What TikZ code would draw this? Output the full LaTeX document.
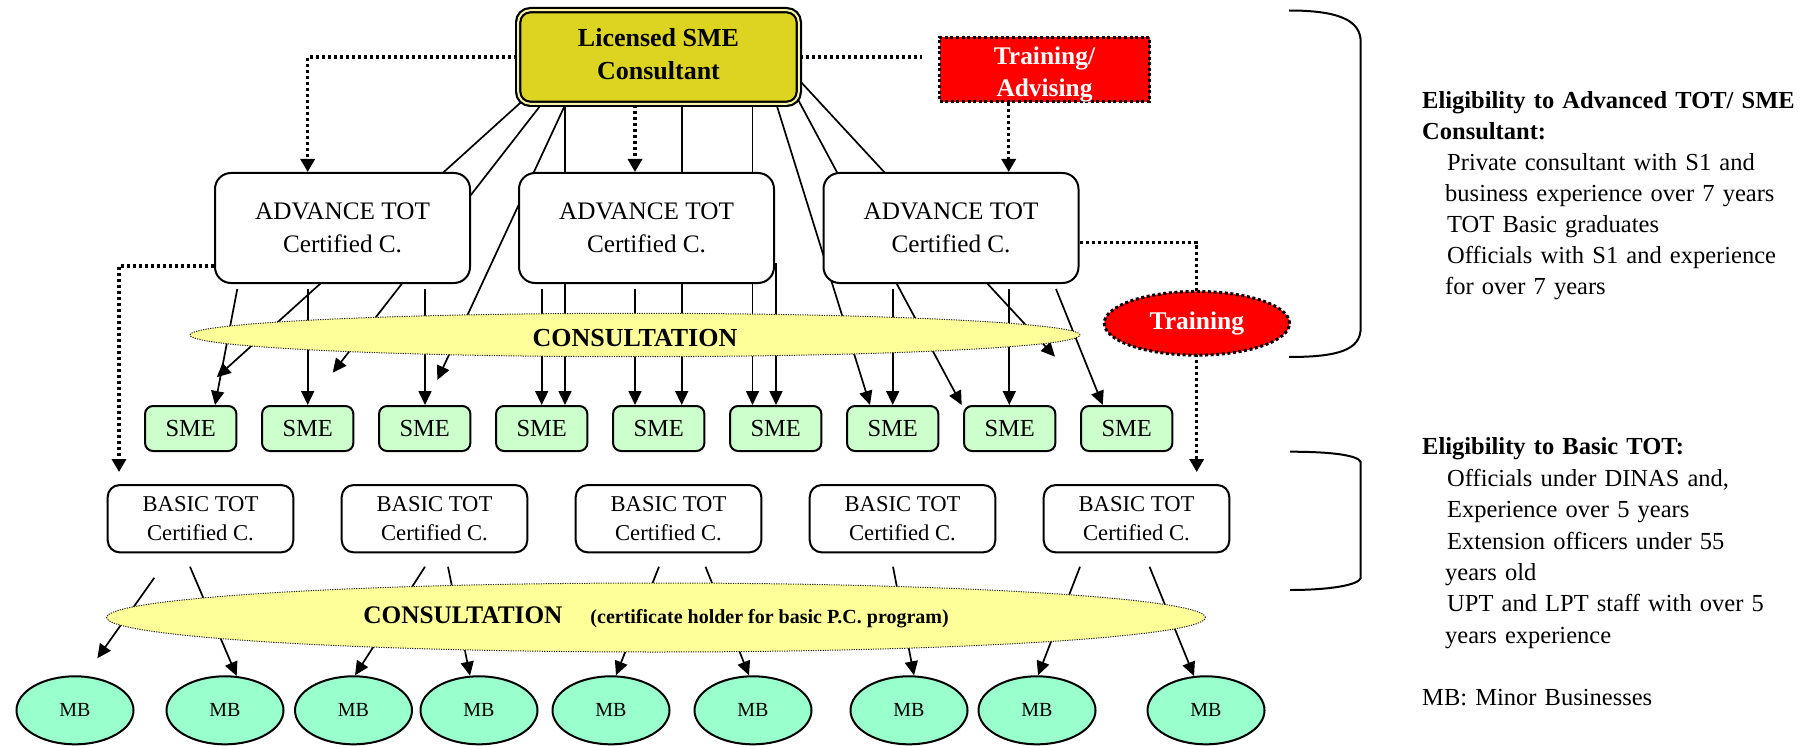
\documentclass[tikz,border=0pt]{standalone}
\usepackage{fontspec}
\setmainfont{Liberation Serif}
\usetikzlibrary{arrows.meta,shapes.geometric,calc}
\definecolor{licfill}{RGB}{221,212,34}
\definecolor{licgap}{RGB}{246,242,170}
\definecolor{consfill}{RGB}{255,255,153}
\definecolor{smefill}{RGB}{204,255,204}
\definecolor{mbfill}{RGB}{153,255,204}
\definecolor{hotred}{RGB}{255,0,0}
\pgfdeclarelayer{back}
\pgfsetlayers{back,main}
\tikzset{
  lic/.style={rectangle, rounded corners=12pt, draw=black, line width=2.2pt,
    double=licgap, double distance=2pt, fill=licfill,
    minimum width=280.6pt, minimum height=93.6pt, inner sep=0pt},
  licTxt/.style={align=center, inner sep=0pt, font=\fontsize{26}{33.3}\selectfont\bfseries},
  trainbox/.style={rectangle, draw=black, line width=3pt, dash pattern=on 3pt off 2.6pt,
    fill=hotred, minimum width=210pt, minimum height=64.3pt, inner sep=0pt},
  trainTxtSty/.style={align=center, inner sep=0pt, text=white,
    font=\fontsize{25.4}{31.7}\selectfont\bfseries},
  trainell/.style={ellipse, draw=black, line width=3pt, dash pattern=on 3pt off 2.6pt,
    fill=hotred, minimum width=185.3pt, minimum height=63.7pt, inner sep=0pt,
    text=white, font=\fontsize{25.5}{30}\selectfont\bfseries},
  advbox/.style={rectangle, rounded corners=16pt, draw=black, line width=2pt, fill=white,
    minimum width=255pt, minimum height=110pt, inner sep=0pt, align=center,
    font=\fontsize{25.2}{32.7}\selectfont},
  consell/.style={ellipse, draw=black!85, line width=1pt, dash pattern=on 1.2pt off 1.2pt,
    fill=consfill, inner sep=0pt},
  consTxt/.style={inner sep=0pt, font=\fontsize{26}{30}\selectfont\bfseries},
  smebox/.style={rectangle, rounded corners=8pt, draw=black, line width=2pt, fill=smefill,
    minimum width=91.3pt, minimum height=45pt, inner sep=0pt,
    font=\fontsize{24.5}{29}\selectfont},
  basicbox/.style={rectangle, rounded corners=12pt, draw=black, line width=2pt, fill=white,
    minimum width=185.6pt, minimum height=67.3pt, inner sep=0pt, align=center,
    font=\fontsize{22.6}{29}\selectfont},
  mbell/.style={ellipse, draw=black, line width=2pt, fill=mbfill,
    minimum width=117pt, minimum height=68pt, inner sep=0pt,
    font=\fontsize{20}{24}\selectfont},
  righttxt/.style={text width=379pt, align=left, inner sep=0pt, anchor=base west},
  conn/.style={line width=1.7pt, -{Triangle[length=14pt,width=13pt]}},
  dotline/.style={line width=3.3pt, dash pattern=on 3.3pt off 2.7pt},
  dotconn/.style={dotline, -{Triangle[length=13pt,width=14pt]}},
  brace/.style={line width=2pt}
}
\begin{document}
\begin{tikzpicture}[x=1pt,y=-1pt]
\useasboundingbox (0,0) rectangle (1801,746);

% ---- top level
\node[lic] (top) at (658.5,57) {};
\node[licTxt] (topTxt) at ($(top.center)+(0,-2.6)$) {Licensed SME\\Consultant};
\node[trainbox] (train) at (1044.5,69.4) {};
\node[trainTxtSty] (trainTxt) at ($(train.center)+(0,5.4)$) {Training/\\Advising};

% ---- advanced trainers
\node[advbox] (adv1) at (342.5,228) {ADVANCE TOT\\Certified C.};
\node[advbox] (adv2) at (646.5,228) {ADVANCE TOT\\Certified C.};
\node[advbox] (adv3) at (951,228) {ADVANCE TOT\\Certified C.};

% ---- first consultation band
\node[consell, minimum width=890pt, minimum height=43.4pt] (cons1) at (635,335) {};
\node[consTxt] (cons1Txt) at ($(cons1.center)+(0,3.4)$) {CONSULTATION};
\node[trainell] (trainEl) at (1196.9,323.3) {Training};

% ---- SME row
\foreach \i in {1,...,9}
  \node[smebox] (sme\i) at ({190.7+117*(\i-1)},428.5) {SME};

% ---- basic trainers
\foreach \i in {1,...,5}
  \node[basicbox] (basic\i) at ({200.5+234*(\i-1)},518.7) {BASIC TOT\\Certified C.};

% ---- second consultation band
\node[consell, minimum width=1098.7pt, minimum height=69pt, font=\bfseries] (cons2) at (656,617.5)
  {{\fontsize{25.3}{30}\selectfont CONSULTATION}\hspace{28pt}{\fontsize{20}{24}\selectfont (certificate holder for basic P.C. program)}};

% ---- minor businesses
\foreach \x [count=\i] in {75,225,353.5,479,611,753,909,1037,1206}
  \node[mbell] (mb\i) at (\x,710.3) {MB};

% ---- free arrow ends
\coordinate (tipA) at (216.7,377.3);
\coordinate (tipB) at (332.7,372.7);
\coordinate (tipC) at (437.3,380);
\coordinate (tipD) at (1055,356.7);
\coordinate (tipE) at (97.3,658.3);

% ---- connectors, behind the shapes
\begin{pgfonlayer}{back}
  % licensed consultant downwards
  \draw[conn] ($(top.center)+(-129.5,38)$) -- (tipA);
  \draw[conn] ($(top.center)+(-109.9,38)$) -- (tipB);
  \draw[conn] ($(top.center)+(-88.8,38)$) -- (tipC);
  \draw[conn] ($(top.center)+(-93.5,38)$) -- ($(sme4.north)+(23.3,0)$);
  \draw[conn] ($(top.center)+(23.2,38)$) -- ($(sme5.north)+(23,0)$);
  \draw[conn] ($(top.center)+(94,38)$) -- ($(sme6.north)+(-23.2,0)$);
  \draw[conn] ($(top.center)+(115,38)$) -- ($(sme7.north)+(-22.7,0)$);
  \draw[conn] ($(top.center)+(137.1,38)$) -- ($(sme8.north)+(-48,0)$);
  \draw[conn] ($(top.center)+(131.5,13.2)$) -- (tipD);
  % advanced trainers to SMEs
  \draw[conn] ($(adv1.south)+(-105.2,5)$) -- ($(sme1.north)+(24.3,0)$);
  \draw[conn] ($(adv1.south)+(-34.8,5)$) -- ($(sme2.north)+(0,0)$);
  \draw[conn] ($(adv1.south)+(82.5,5)$) -- ($(sme3.north)+(0.3,0)$);
  \draw[conn] ($(adv2.south)+(-104.8,5)$) -- ($(sme4.north)+(0,0)$);
  \draw[conn] ($(adv2.south)+(-11.5,5)$) -- ($(sme5.north)+(-23.7,0)$);
  \draw[conn] ($(adv2.south)+(129.5,-21)$) -- ($(sme6.north)+(0.3,0)$);
  \draw[conn] ($(adv3.south)+(-58.3,5)$) -- ($(sme7.north)+(0,0)$);
  \draw[conn] ($(adv3.south)+(58.3,5)$) -- ($(sme8.north)+(-0.4,0)$);
  \draw[conn] ($(adv3.south)+(105,5)$) -- ($(sme9.north)+(-24,0)$);
  % basic trainers to minor businesses
  \draw[conn] ($(basic1.south)+(-46.2,24.4)$) -- (tipE);
  \draw[conn] ($(basic1.south)+(-10.5,13.4)$) -- ($(mb2.north)+(11.7,0.7)$);
  \draw[conn] ($(basic2.south)+(-9.5,13.4)$) -- ($(mb3.north)+(1.5,0)$);
  \draw[conn] ($(basic2.south)+(13.5,13.4)$) -- ($(mb4.north)+(-9,0.4)$);
  \draw[conn] ($(basic3.south)+(-9.5,13.4)$) -- ($(mb5.north)+(5,0)$);
  \draw[conn] ($(basic3.south)+(37,13.4)$) -- ($(mb6.north)+(-4,0)$);
  \draw[conn] ($(basic4.south)+(-9.5,13.4)$) -- ($(mb7.north)+(5,0)$);
  \draw[conn] ($(basic5.south)+(-56.5,13.4)$) -- ($(mb8.north)+(1,0)$);
  \draw[conn] ($(basic5.south)+(13,13.4)$) -- ($(mb9.north)+(-12,0.7)$);
  % dotted training paths
  \draw[dotconn] (top.west) -| ($(adv1.north)+(-34.8,0)$);
  \draw[dotconn] ($(top.south)+(-23.5,0)$) -- ($(adv2.north)+(-11.5,0)$);
  \draw[dotline] (top.east) -- ($(top.east -| train.west)+(-16.3,0)$);
  \draw[dotconn] ($(train.south)+(-35.8,0)$) -- ($(adv3.north)+(57.7,0)$);
  \draw[dotconn] ($(adv1.west)+(0,38)$) -| ($(basic1.north)+(-81.5,-12)$);
  \draw[dotconn] ($(adv3.east)+(0,14.7)$) -| ($(basic5.north)+(60.2,-12)$);
\end{pgfonlayer}

% ---- brackets
\draw[brace] (1289,10.5) .. controls (1338,10.5) and (1360.7,20) .. (1360.7,42)
  -- (1360.7,328) .. controls (1360.7,350) and (1338,357) .. (1289,357);
\draw[brace] (1290,451.7) .. controls (1330,451.7) and (1358,455) .. (1360.7,462)
  -- (1360.7,578.3) .. controls (1358,585) and (1330,590) .. (1290,590);

% ---- eligibility notes
\node[righttxt, font=\fontsize{24.5}{31}\selectfont] (eligAdv) at (1422,108.6)
  {\textbf{Eligibility to Advanced TOT/ SME}\\
   \textbf{Consultant:}\\
   \hspace*{25pt}Private consultant with S1 and\\
   \hspace*{23pt}business experience over 7 years\\
   \hspace*{25pt}TOT Basic graduates\\
   \hspace*{25pt}Officials with S1 and experience\\
   \hspace*{23pt}for over 7 years};
\node[righttxt, font=\fontsize{24.5}{31.4}\selectfont] (eligBasic) at (1422,454.8)
  {\textbf{Eligibility to Basic TOT:}\\
   \hspace*{25pt}Officials under DINAS and,\\
   \hspace*{25pt}Experience over 5 years\\
   \hspace*{25pt}Extension officers under 55\\
   \hspace*{23pt}years old\\
   \hspace*{25pt}UPT and LPT staff with over 5\\
   \hspace*{23pt}years experience};
\node[righttxt, font=\fontsize{24.5}{31}\selectfont] (mbNote) at (1422,705.7) {MB: Minor Businesses};
\end{tikzpicture}
\end{document}
